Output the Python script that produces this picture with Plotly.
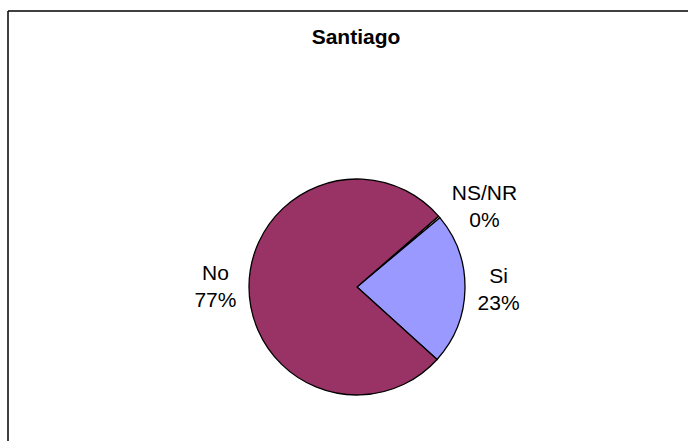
import plotly.graph_objects as go

labels = ["NS/NR", "Si", "No"]
values = [0.3, 22.8, 76.9]
colors = ["#FFFFCC", "#9999FF", "#993366"]
title = "Santiago"

W, H = 688, 441
cx, cy, r = 357, 287, 108

fig = go.Figure(go.Pie(
    labels=labels,
    values=values,
    sort=False,
    direction="clockwise",
    rotation=49,
    marker=dict(colors=colors, line=dict(color="black", width=1.3)),
    textposition="outside",
    texttemplate="%{label}<br>%{percent:.0%}",
    textfont=dict(family="Liberation Sans, Arial", size=21, color="black"),
    showlegend=False,
    hoverinfo="label+percent",
    domain=dict(x=[(cx - r) / W, (cx + r) / W], y=[1 - (cy + r) / H, 1 - (cy - r) / H]),
))

top = 1 - 11 / H
left = 8 / W
fig.update_layout(
    width=W, height=H,
    margin=dict(l=0, r=0, t=0, b=0),
    paper_bgcolor="white",
    plot_bgcolor="white",
    title=dict(text="<b>" + title + "</b>", x=356 / W, xanchor="center",
               y=1 - 37 / H, yanchor="middle",
               font=dict(family="Liberation Sans, Arial", size=21, color="black")),
    shapes=[
        dict(type="line", xref="paper", yref="paper", x0=left, x1=1, y0=top, y1=top,
             line=dict(color="black", width=1.5)),
        dict(type="line", xref="paper", yref="paper", x0=left, x1=left, y0=0, y1=top,
             line=dict(color="black", width=1.5)),
    ],
)

fig.write_html(
    "out.html",
    config={"displayModeBar": False},
    post_script="document.body.style.margin='0';document.body.style.overflow='hidden';",
)
